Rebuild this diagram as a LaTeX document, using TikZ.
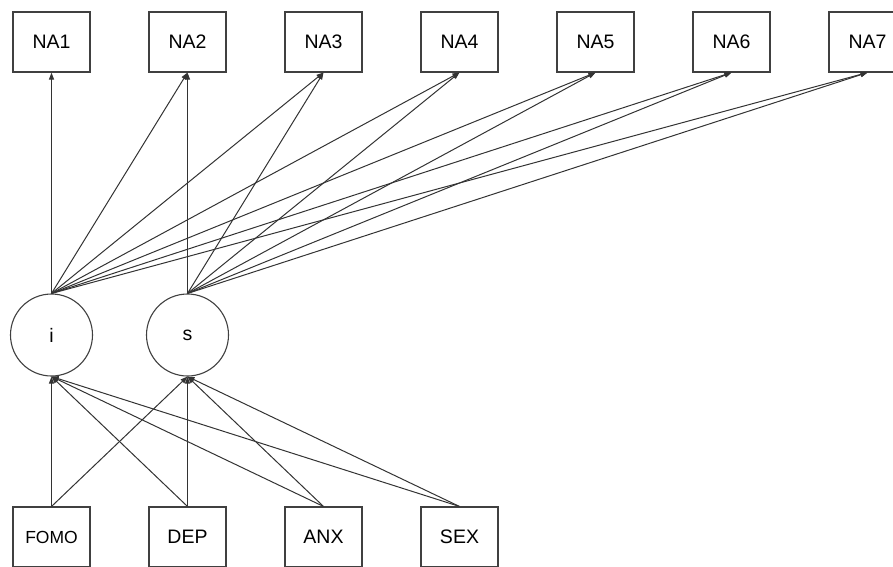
\documentclass[tikz,border=0pt]{standalone}
\usepackage{fontspec}
\setmainfont{Liberation Sans}
\usetikzlibrary{arrows.meta}
\begin{document}
\begin{tikzpicture}[x=1pt,y=-1pt,
  box/.style={draw=black!75, line width=1.1pt, minimum width=77pt, minimum height=60pt, inner sep=0pt, font=\fontsize{19.5}{20}\selectfont},
  smallbox/.style={box, font=\fontsize{17.5}{18}\selectfont},
  lat/.style={circle, draw=black!75, line width=1.1pt, minimum size=82pt, inner sep=0pt, font=\fontsize{19.5}{20}\selectfont},
  link/.style={draw=black!80, line width=1pt, -{Triangle[length=7pt,width=5pt]}}]
\useasboundingbox (0,0) rectangle (893,566);
\foreach \k in {1,...,7}{
  \node[box] (NA\k) at ({51.5+136*(\k-1)},42) {NA\k};
}
\node[lat] (i) at (51.5,335) {i};
\node[lat] (s) at (187.5,335) {s};
\node[smallbox] (FOMO) at (51.5,537) {FOMO};
\node[box] (DEP) at (187.5,537) {DEP};
\node[box] (ANX) at (323.5,537) {ANX};
\node[box] (SEX) at (459.5,537) {SEX};
\foreach \k in {1,...,7}{
  \draw[link] (i.north) -- (NA\k.south);
}
\foreach \k in {2,...,7}{
  \draw[link] (s.north) -- (NA\k.south);
}
\foreach \v in {FOMO,DEP,ANX,SEX}{
  \draw[link] (\v.north) -- (i.south);
  \draw[link] (\v.north) -- (s.south);
}
\end{tikzpicture}
\end{document}
